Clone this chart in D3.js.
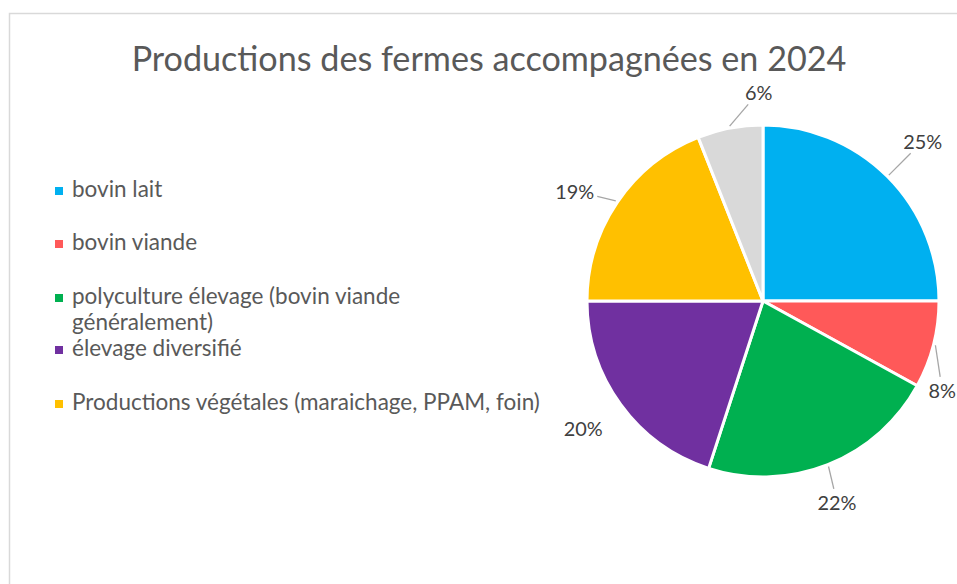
<!DOCTYPE html>
<html>
<head>
<meta charset="utf-8">
<script src="https://cdn.jsdelivr.net/npm/d3@7"></script>
<style>
  html, body { margin: 0; padding: 0; background: #fff; }
  svg { display: block; font-family: Lato, "Open Sans", sans-serif; }
</style>
</head>
<body>
<svg id="chart" width="957" height="584"></svg>
<script>
// data
const categories = [
  "bovin lait",
  "bovin viande",
  "polyculture élevage (bovin viande généralement)",
  "élevage diversifié",
  "Productions végétales (maraichage, PPAM, foin)",
  "autres"
];
const values = [25, 8, 22, 20, 19, 6];
const colors = ["#00B0F0", "#FF5959", "#00B050", "#7030A0", "#FFC000", "#D9D9D9"];
// legend only lists the first five, the third one wraps on two lines
const legendLines = [
  ["bovin lait"],
  ["bovin viande"],
  ["polyculture élevage (bovin viande", "généralement)"],
  ["élevage diversifié"],
  ["Productions végétales (maraichage, PPAM, foin)"]
];
const title = "Productions des fermes accompagnées en 2024";

// layout
const W = 957, H = 584;
const cx = 763, cy = 301, r = 176;
const labelR = [226, 200, 214, 220, 218, 209];
const labelNudge = [0, 12, 1.4, 0.8, -3.9, 9.6]; // degrees
const showLeader = [true, true, true, false, true, true];
const legendBaselines = [197, 250, 304, 356, 410];
const legendLineGap = 26;

const svg = d3.select("#chart");

svg.append("rect")
  .attr("x", 9.5).attr("y", 13.5)
  .attr("width", 1200).attr("height", 1200)
  .attr("fill", "#fff")
  .attr("stroke", "#d9d9d9")
  .attr("stroke-width", 1.5);

// fit a text element to a width
function fit(sel, target) {
  const w = sel.node().getComputedTextLength();
  const fs = parseFloat(sel.attr("font-size"));
  return fs * target / w;
}

const t = svg.append("text")
  .attr("x", 489).attr("y", 71)
  .attr("text-anchor", "middle")
  .attr("font-size", 30)
  .attr("fill", "#595959")
  .text(title);
t.attr("font-size", fit(t, 715));

// legend
const legend = svg.append("g");
const probe = legend.append("text").attr("font-size", 20).text(legendLines[4][0]);
const legendSize = fit(probe, 468);
probe.remove();

legendLines.forEach((lines, i) => {
  const y = legendBaselines[i];
  legend.append("rect")
    .attr("x", 55).attr("y", y - 10)
    .attr("width", 8).attr("height", 8)
    .attr("fill", colors[i]);
  lines.forEach((ln, j) => {
    legend.append("text")
      .attr("x", 72).attr("y", y + j * legendLineGap)
      .attr("font-size", legendSize)
      .attr("fill", "#595959")
      .text(ln);
  });
});

// pie
const pie = d3.pie().sort(null).value(d => d)(values);
const arc = d3.arc().innerRadius(0).outerRadius(r);

const g = svg.append("g").attr("transform", `translate(${cx},${cy})`);

g.selectAll("path")
  .data(pie)
  .enter()
  .append("path")
  .attr("d", arc)
  .attr("fill", (d, i) => colors[i])
  .attr("stroke", "#fff")
  .attr("stroke-width", 3)
  .attr("stroke-linejoin", "round");

const fmt = d3.format(".0%");
const total = d3.sum(values);
const polar = (a, rad) => [Math.sin(a) * rad, -Math.cos(a) * rad];

const labelProbe = g.append("text").attr("font-size", 20).text("25%");
const labelSize = fit(labelProbe, 39);
labelProbe.remove();

pie.forEach((d, i) => {
  const mid = (d.startAngle + d.endAngle) / 2;
  const la = mid + labelNudge[i] * Math.PI / 180;
  const [lx, ly] = polar(la, labelR[i]);
  const txt = g.append("text")
    .attr("x", lx).attr("y", ly)
    .attr("text-anchor", "middle")
    .attr("dominant-baseline", "central")
    .attr("font-size", labelSize)
    .attr("fill", "#404040")
    .text(fmt(d.value / total));

  if (!showLeader[i]) return;
  const bb = txt.node().getBBox();
  const hw = bb.width / 2, hh = bb.height / 2 - 2;
  const [sx, sy] = polar(mid, r + 2);
  const dx = lx - sx, dy = ly - sy;
  const len = Math.hypot(dx, dy);
  const ux = dx / len, uy = dy / len;
  const cut = Math.min(hw / Math.abs(ux || 1e-6), hh / Math.abs(uy || 1e-6)) + 3;
  const ex = sx + ux * (len - cut), ey = sy + uy * (len - cut);
  g.append("line")
    .attr("x1", sx).attr("y1", sy)
    .attr("x2", ex).attr("y2", ey)
    .attr("stroke", "#a6a6a6")
    .attr("stroke-width", 1.3);
});
</script>
</body>
</html>
